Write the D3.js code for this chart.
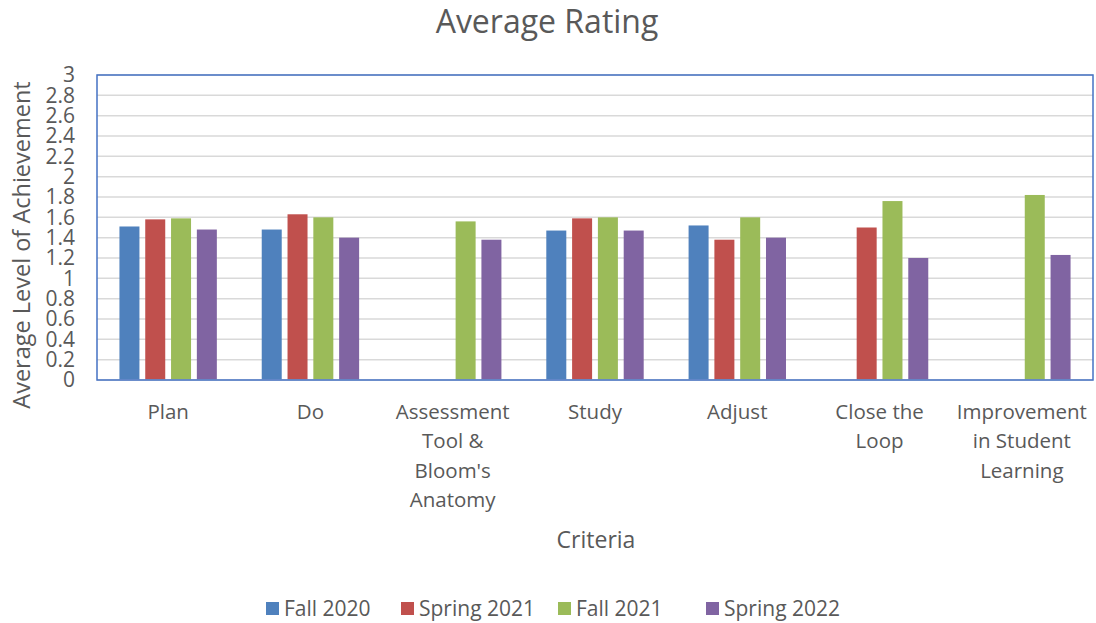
<!DOCTYPE html>
<meta charset="utf-8">
<head>
<style>
  body { margin: 0; background: #fff; }
  text { font-family: "Open Sans", sans-serif; fill: #595959; }
</style>
</head>
<body>
<script src="https://d3js.org/d3.v7.min.js"></script>
<script>

// chart data
var categories = ["Plan", "Do", "Assessment Tool & Bloom's Anatomy", "Study", "Adjust", "Close the Loop", "Improvement in Student Learning"];
// how each category label is wrapped on the axis
var categoryLines = [["Plan"], ["Do"], ["Assessment", "Tool &", "Bloom's", "Anatomy"], ["Study"], ["Adjust"], ["Close the", "Loop"], ["Improvement", "in Student", "Learning"]];
var seriesNames = ["Fall 2020", "Spring 2021", "Fall 2021", "Spring 2022"];
var fall2020   = [1.51, 1.48, null, 1.47, 1.52, null, null];
var spring2021 = [1.58, 1.63, null, 1.59, 1.38, 1.50, null];
var fall2021   = [1.59, 1.60, 1.56, 1.60, 1.60, 1.76, 1.82];
var spring2022 = [1.48, 1.40, 1.38, 1.47, 1.40, 1.20, 1.23];
var yTicks = [0, 0.2, 0.4, 0.6, 0.8, 1, 1.2, 1.4, 1.6, 1.8, 2, 2.2, 2.4, 2.6, 2.8, 3];
var colors = ["#4F81BD", "#C0504D", "#9BBB59", "#8064A2"];

var series = [fall2020, spring2021, fall2021, spring2022];

//Canvas size
var width = 1096,
    height = 623;

//Plot area
var plotLeft = 97, plotTop = 75, plotRight = 1093, plotBottom = 380;

var svg = d3.select("body").append("svg")
    .attr("width", width)
    .attr("height", height);

var x = d3.scaleBand()
    .domain(categories)
    .range([plotLeft, plotRight])
    .padding(0);

//bars of one group sit in the middle of each category
var groupW = 97.4;
var xs = d3.scaleBand()
    .domain(d3.range(seriesNames.length))
    .range([(x.bandwidth() - groupW) / 2, (x.bandwidth() + groupW) / 2])
    .paddingInner(0.225)
    .paddingOuter(0);

var y = d3.scaleLinear()
    .domain([0, 3])
    .range([plotBottom, plotTop]);

// gridlines
svg.append("g")
  .selectAll("line")
  .data(yTicks.slice(1))
  .enter().append("line")
  .attr("x1", plotLeft).attr("x2", plotRight)
  .attr("y1", d => y(d)).attr("y2", d => y(d))
  .attr("stroke", "#D9D9D9")
  .attr("stroke-width", 1.5);

// bars
series.forEach(function(vals, si) {
  svg.append("g")
    .selectAll("rect")
    .data(vals.map((v, i) => ({ v: v, c: categories[i] })).filter(d => d.v != null))
    .enter().append("rect")
    .attr("x", d => x(d.c) + xs(si))
    .attr("width", xs.bandwidth())
    .attr("y", d => y(d.v))
    .attr("height", d => y(0) - y(d.v))
    .attr("fill", colors[si]);
});

// bottom axis line
svg.append("line")
  .attr("x1", plotLeft).attr("x2", plotRight)
  .attr("y1", plotBottom).attr("y2", plotBottom)
  .attr("stroke", "#D9D9D9")
  .attr("stroke-width", 1.5);

// plot border (blue)
svg.append("rect")
  .attr("x", plotLeft).attr("y", plotTop)
  .attr("width", plotRight - plotLeft).attr("height", plotBottom - plotTop)
  .attr("fill", "none")
  .attr("stroke", "#4472C4")
  .attr("stroke-width", 1.5);

// y tick labels
var yAxis = d3.axisLeft(y).tickValues(yTicks).tickSize(0).tickPadding(22).tickFormat(d3.format("~g"));
var yg = svg.append("g")
  .attr("transform", "translate(" + plotLeft + ",0)")
  .call(yAxis);
yg.select(".domain").remove();
yg.attr("font-family", null).attr("font-size", null);
yg.selectAll("text").style("font-size", "21px").attr("fill", "#595959");

// x labels
var xg = svg.append("g");
categories.forEach(function(c, i) {
  var cx = x(c) + x.bandwidth() / 2;
  var t = xg.append("text")
    .attr("x", cx)
    .attr("y", 419)
    .attr("text-anchor", "middle")
    .style("font-size", "20.5px");
  categoryLines[i].forEach(function(line, li) {
    t.append("tspan")
      .attr("x", cx)
      .attr("dy", li == 0 ? 0 : 29.3)
      .text(line);
  });
});

// titles
svg.append("text")
  .attr("x", 547).attr("y", 33)
  .attr("text-anchor", "middle")
  .style("font-size", "32px")
  .text("Average Rating");

svg.append("text")
  .attr("x", 596).attr("y", 548)
  .attr("text-anchor", "middle")
  .style("font-size", "23px")
  .text("Criteria");

svg.append("text")
  .attr("transform", "translate(30,245)rotate(-90)")
  .attr("text-anchor", "middle")
  .style("font-size", "23.5px")
  .text("Average Level of Achievement");

// legend
var legendX = [266, 401, 558, 706];
var legend = svg.append("g");
seriesNames.forEach(function(n, i) {
  legend.append("rect")
    .attr("x", legendX[i]).attr("y", 602)
    .attr("width", 13).attr("height", 13)
    .attr("fill", colors[i]);
  legend.append("text")
    .attr("x", legendX[i] + 18).attr("y", 616)
    .style("font-size", "21px")
    .text(n);
});

</script>
</body>
